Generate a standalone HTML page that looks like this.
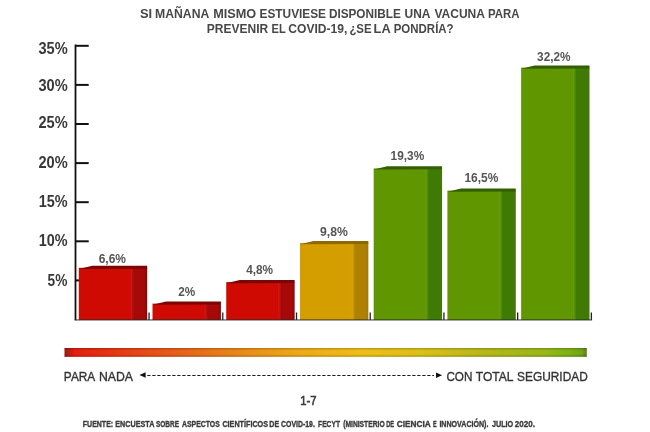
<!DOCTYPE html>
<html><head><meta charset="utf-8">
<style>
html,body{margin:0;padding:0;background:#fff;}
body{width:650px;height:432px;overflow:hidden;position:relative;}
svg{position:absolute;left:0;top:0;will-change:transform;}

text{font-family:"Liberation Sans",sans-serif;}
.t{font-size:13.4px;font-weight:bold;fill:#474747;}
.yl{font-size:15.6px;font-weight:bold;fill:#383838;}
.bl{font-size:13px;font-weight:bold;fill:#545454;}
.lg{font-size:13.4px;fill:#333;stroke:#333;stroke-width:0.35px;}
.lg2{font-size:13.3px;fill:#3a3a3a;stroke:#3a3a3a;stroke-width:0.6px;}
.ft{font-size:8.6px;font-weight:bold;fill:#3a3a3a;stroke:#3a3a3a;stroke-width:0.35px;}

</style></head><body>
<svg width="650" height="432" viewBox="0 0 650 432">
<defs>
<linearGradient id="gr" x1="64.5" y1="0" x2="586.8" y2="0" gradientUnits="userSpaceOnUse">
<stop offset="0" stop-color="#8a1a18"/><stop offset="0.006" stop-color="#b81c14"/><stop offset="0.02" stop-color="#e61e0e"/>
<stop offset="0.22" stop-color="#e8601a"/>
<stop offset="0.337" stop-color="#e88a18"/>
<stop offset="0.452" stop-color="#eeaa18"/>
<stop offset="0.567" stop-color="#eebe18"/>
<stop offset="0.682" stop-color="#dcc018"/>
<stop offset="0.797" stop-color="#b8b818"/>
<stop offset="0.92" stop-color="#98b818"/>
<stop offset="0.965" stop-color="#7cb410"/>
<stop offset="0.99" stop-color="#72a418"/>
<stop offset="1" stop-color="#5a8020"/>
</linearGradient>
<linearGradient id="gv" x1="0" y1="0" x2="0" y2="1">
<stop offset="0" stop-color="#000" stop-opacity="0.22"/>
<stop offset="0.3" stop-color="#000" stop-opacity="0"/>
<stop offset="0.7" stop-color="#000" stop-opacity="0"/>
<stop offset="1" stop-color="#000" stop-opacity="0.22"/>
</linearGradient>
<linearGradient id="s0" x1="0" y1="0" x2="1" y2="0"><stop offset="0" stop-color="#d01818"/><stop offset="0.2" stop-color="#a50a08"/><stop offset="0.8" stop-color="#a50a08"/><stop offset="1" stop-color="#850808"/></linearGradient><linearGradient id="s1" x1="0" y1="0" x2="1" y2="0"><stop offset="0" stop-color="#d01818"/><stop offset="0.2" stop-color="#a50a08"/><stop offset="0.8" stop-color="#a50a08"/><stop offset="1" stop-color="#850808"/></linearGradient><linearGradient id="s2" x1="0" y1="0" x2="1" y2="0"><stop offset="0" stop-color="#d01818"/><stop offset="0.2" stop-color="#a50a08"/><stop offset="0.8" stop-color="#a50a08"/><stop offset="1" stop-color="#850808"/></linearGradient><linearGradient id="s3" x1="0" y1="0" x2="1" y2="0"><stop offset="0" stop-color="#d8a810"/><stop offset="0.2" stop-color="#b08000"/><stop offset="0.8" stop-color="#b08000"/><stop offset="1" stop-color="#9c7a1a"/></linearGradient><linearGradient id="s4" x1="0" y1="0" x2="1" y2="0"><stop offset="0" stop-color="#68a012"/><stop offset="0.2" stop-color="#3f7a05"/><stop offset="0.8" stop-color="#3f7a05"/><stop offset="1" stop-color="#4a7414"/></linearGradient><linearGradient id="s5" x1="0" y1="0" x2="1" y2="0"><stop offset="0" stop-color="#68a012"/><stop offset="0.2" stop-color="#3f7a05"/><stop offset="0.8" stop-color="#3f7a05"/><stop offset="1" stop-color="#4a7414"/></linearGradient><linearGradient id="s6" x1="0" y1="0" x2="1" y2="0"><stop offset="0" stop-color="#68a012"/><stop offset="0.2" stop-color="#3f7a05"/><stop offset="0.8" stop-color="#3f7a05"/><stop offset="1" stop-color="#4a7414"/></linearGradient>
</defs>
<rect x="75" y="44.8" width="13.7" height="2" fill="#111"/><rect x="75" y="83.9" width="13.7" height="2" fill="#111"/><rect x="75" y="123.0" width="13.7" height="2" fill="#111"/><rect x="75" y="162.1" width="13.7" height="2" fill="#111"/><rect x="75" y="201.2" width="13.7" height="2" fill="#111"/><rect x="75" y="240.3" width="13.7" height="2" fill="#111"/><rect x="75" y="279.4" width="13.7" height="2" fill="#111"/>
<rect x="74.6" y="44.6" width="1.8" height="275.6" fill="#111"/>
<rect x="148.40" y="312.5" width="1.3" height="7.5" fill="#222"/><rect x="222.12" y="312.5" width="1.3" height="7.5" fill="#222"/><rect x="295.84" y="312.5" width="1.3" height="7.5" fill="#222"/><rect x="369.56" y="312.5" width="1.3" height="7.5" fill="#222"/><rect x="443.28" y="312.5" width="1.3" height="7.5" fill="#222"/><rect x="517.00" y="312.5" width="1.3" height="7.5" fill="#222"/><rect x="590.72" y="312.5" width="1.3" height="7.5" fill="#222"/>
<rect x="78.80" y="267.80" width="54.0" height="52.20" fill="#ce0a03"/><polygon points="130.80,320.0 130.80,268.0 147.20,268.0 147.20,320.0" fill="url(#s0)"/><polygon points="78.80,269.0 92.30,265.7 147.20,265.7 147.20,268.70" fill="#7c0606"/><rect x="152.52" y="303.60" width="54.0" height="16.40" fill="#ce0a03"/><polygon points="204.52,320.0 204.52,303.8 220.92,303.8 220.92,320.0" fill="url(#s1)"/><polygon points="152.52,304.8 166.02,301.5 220.92,301.5 220.92,304.50" fill="#7c0606"/><rect x="226.24" y="282.10" width="54.0" height="37.90" fill="#ce0a03"/><polygon points="278.24,320.0 278.24,282.3 294.64,282.3 294.64,320.0" fill="url(#s2)"/><polygon points="226.24,283.3 239.74,280.0 294.64,280.0 294.64,283.00" fill="#7c0606"/><rect x="299.96" y="243.00" width="54.0" height="77.00" fill="#d59e00"/><polygon points="351.96,320.0 351.96,243.2 368.36,243.2 368.36,320.0" fill="url(#s3)"/><polygon points="299.96,244.2 313.46,240.89999999999998 368.36,240.89999999999998 368.36,243.90" fill="#8e6800"/><rect x="373.68" y="168.40" width="54.0" height="151.60" fill="#609700"/><polygon points="425.68,320.0 425.68,168.6 442.08,168.6 442.08,320.0" fill="url(#s4)"/><polygon points="373.68,169.6 387.18,166.29999999999998 442.08,166.29999999999998 442.08,169.30" fill="#335e02"/><rect x="447.40" y="190.60" width="54.0" height="129.40" fill="#609700"/><polygon points="499.40,320.0 499.40,190.8 515.80,190.8 515.80,320.0" fill="url(#s5)"/><polygon points="447.40,191.8 460.90,188.5 515.80,188.5 515.80,191.50" fill="#335e02"/><rect x="521.12" y="67.60" width="54.0" height="252.40" fill="#609700"/><polygon points="573.12,320.0 573.12,67.8 589.52,67.8 589.52,320.0" fill="url(#s6)"/><polygon points="521.12,68.8 534.62,65.5 589.52,65.5 589.52,68.50" fill="#335e02"/>
<rect x="74.6" y="319.4" width="517.5" height="1.1" fill="#2a2a2a" fill-opacity="0.85"/>
<text x="140.03" y="17.8" class="t" textLength="12.18" lengthAdjust="spacingAndGlyphs">SI</text><text x="155.06" y="17.8" class="t" textLength="54.22" lengthAdjust="spacingAndGlyphs">MAÑANA</text><text x="213.23" y="17.8" class="t" textLength="43.02" lengthAdjust="spacingAndGlyphs">MISMO</text><text x="259.59" y="17.8" class="t" textLength="66.42" lengthAdjust="spacingAndGlyphs">ESTUVIESE</text><text x="328.89" y="17.8" class="t" textLength="71.98" lengthAdjust="spacingAndGlyphs">DISPONIBLE</text><text x="404.54" y="17.8" class="t" textLength="25.91" lengthAdjust="spacingAndGlyphs">UNA</text><text x="434.38" y="17.8" class="t" textLength="50.57" lengthAdjust="spacingAndGlyphs">VACUNA</text><text x="488.02" y="17.8" class="t" textLength="31.45" lengthAdjust="spacingAndGlyphs">PARA</text><text x="206.78" y="33.0" class="t" textLength="61.40" lengthAdjust="spacingAndGlyphs">PREVENIR</text><text x="271.54" y="33.0" class="t" textLength="14.12" lengthAdjust="spacingAndGlyphs">EL</text><text x="288.27" y="33.0" class="t" textLength="59.08" lengthAdjust="spacingAndGlyphs">COVID-19,</text><text x="349.38" y="33.0" class="t" textLength="22.25" lengthAdjust="spacingAndGlyphs">¿SE</text><text x="373.62" y="33.0" class="t" textLength="17.13" lengthAdjust="spacingAndGlyphs">LA</text><text x="393.71" y="33.0" class="t" textLength="59.93" lengthAdjust="spacingAndGlyphs">PONDRÍA?</text><text x="38.40" y="53.5" class="yl" textLength="29.24" lengthAdjust="spacingAndGlyphs">35%</text><text x="38.40" y="91.3" class="yl" textLength="29.24" lengthAdjust="spacingAndGlyphs">30%</text><text x="38.40" y="128.1" class="yl" textLength="29.24" lengthAdjust="spacingAndGlyphs">25%</text><text x="38.40" y="168.3" class="yl" textLength="29.24" lengthAdjust="spacingAndGlyphs">20%</text><text x="38.77" y="206.9" class="yl" textLength="28.87" lengthAdjust="spacingAndGlyphs">15%</text><text x="38.77" y="246.3" class="yl" textLength="28.87" lengthAdjust="spacingAndGlyphs">10%</text><text x="47.57" y="285.7" class="yl" textLength="19.79" lengthAdjust="spacingAndGlyphs">5%</text><text x="98.69" y="262.6" class="bl" textLength="27.30" lengthAdjust="spacingAndGlyphs">6,6%</text><text x="178.14" y="295.6" class="bl" textLength="17.03" lengthAdjust="spacingAndGlyphs">2%</text><text x="246.19" y="273.5" class="bl" textLength="26.89" lengthAdjust="spacingAndGlyphs">4,8%</text><text x="319.99" y="235.6" class="bl" textLength="27.81" lengthAdjust="spacingAndGlyphs">9,8%</text><text x="390.61" y="159.8" class="bl" textLength="33.63" lengthAdjust="spacingAndGlyphs">19,3%</text><text x="464.40" y="182.0" class="bl" textLength="33.94" lengthAdjust="spacingAndGlyphs">16,5%</text><text x="537.11" y="61.0" class="bl" textLength="33.53" lengthAdjust="spacingAndGlyphs">32,2%</text><text x="63.87" y="380.5" class="lg" textLength="31.43" lengthAdjust="spacingAndGlyphs">PARA</text><text x="98.95" y="380.5" class="lg" textLength="34.07" lengthAdjust="spacingAndGlyphs">NADA</text><text x="446.40" y="380.5" class="lg" textLength="25.99" lengthAdjust="spacingAndGlyphs">CON</text><text x="475.74" y="380.5" class="lg" textLength="37.74" lengthAdjust="spacingAndGlyphs">TOTAL</text><text x="517.10" y="380.5" class="lg" textLength="70.62" lengthAdjust="spacingAndGlyphs">SEGURIDAD</text><text x="300.14" y="405.3" class="lg2" textLength="16.36" lengthAdjust="spacingAndGlyphs">1-7</text><text x="82.80" y="427.0" class="ft" textLength="30.34" lengthAdjust="spacingAndGlyphs">FUENTE:</text><text x="115.29" y="427.0" class="ft" textLength="39.06" lengthAdjust="spacingAndGlyphs">ENCUESTA</text><text x="155.98" y="427.0" class="ft" textLength="23.00" lengthAdjust="spacingAndGlyphs">SOBRE</text><text x="182.09" y="427.0" class="ft" textLength="37.66" lengthAdjust="spacingAndGlyphs">ASPECTOS</text><text x="222.43" y="427.0" class="ft" textLength="45.54" lengthAdjust="spacingAndGlyphs">CIENTÍFICOS</text><text x="269.30" y="427.0" class="ft" textLength="9.84" lengthAdjust="spacingAndGlyphs">DE</text><text x="281.05" y="427.0" class="ft" textLength="33.81" lengthAdjust="spacingAndGlyphs">COVID-19.</text><text x="318.12" y="427.0" class="ft" textLength="21.84" lengthAdjust="spacingAndGlyphs">FECYT</text><text x="343.16" y="427.0" class="ft" textLength="41.51" lengthAdjust="spacingAndGlyphs">(MINISTERIO</text><text x="386.17" y="427.0" class="ft" textLength="8.02" lengthAdjust="spacingAndGlyphs">DE</text><text x="396.78" y="427.0" class="ft" textLength="33.95" lengthAdjust="spacingAndGlyphs">CIENCIA</text><text x="432.99" y="427.0" class="ft" textLength="3.64" lengthAdjust="spacingAndGlyphs">E</text><text x="439.40" y="427.0" class="ft" textLength="49.07" lengthAdjust="spacingAndGlyphs">INNOVACIÓN).</text><text x="491.93" y="427.0" class="ft" textLength="21.32" lengthAdjust="spacingAndGlyphs">JULIO</text><text x="514.78" y="427.0" class="ft" textLength="20.18" lengthAdjust="spacingAndGlyphs">2020.</text>
<rect x="64.5" y="348.0" width="522.3" height="8.8" fill="url(#gr)"/>
<rect x="64.5" y="348.0" width="522.3" height="8.8" fill="url(#gv)"/>
<polygon points="139.5,375 145.6,372.2 145.6,377.8" fill="#111"/>
<line x1="147.3" y1="375.5" x2="434" y2="375.5" stroke="#1a1a1a" stroke-width="1.2" stroke-dasharray="3.2 1.8"/>
<polygon points="442.1,375.3 436.0,372.5 436.0,378.1" fill="#111"/>
</svg>
</body></html>
